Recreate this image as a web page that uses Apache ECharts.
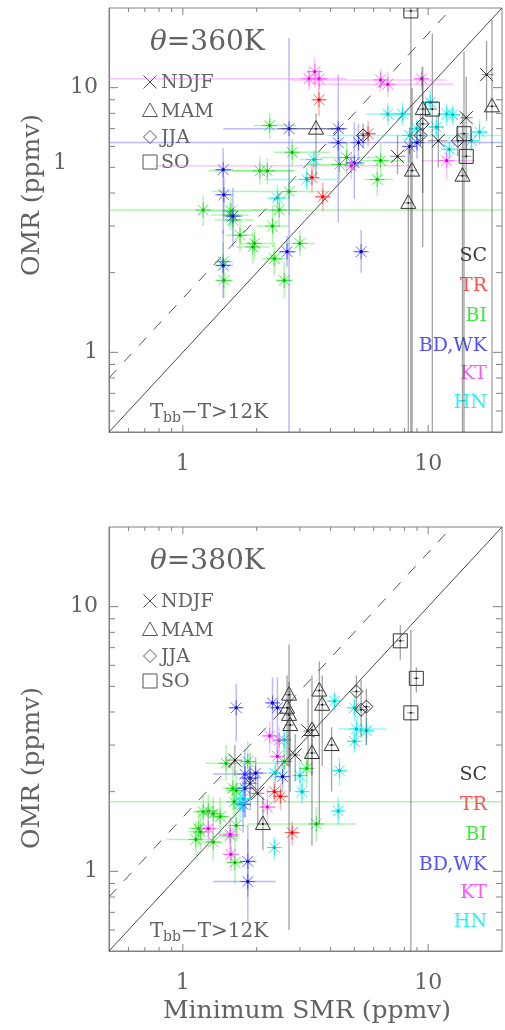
<!DOCTYPE html>
<html><head><meta charset="utf-8">
<script src="https://cdn.jsdelivr.net/npm/echarts@6/dist/echarts.min.js"></script>
<style>html,body{margin:0;padding:0;background:#fff}#c{width:505px;height:1030px}</style>
</head><body><div id="c"></div>
<script>
// ---------- data: [SMR, OMR, SMRlow, SMRhigh, OMRlow, OMRhigh] (ppmv) ----------
const AXIS_MIN = 0.5, AXIS_MAX = 20;
const TICK_VALUES = [0.6,0.7,0.8,0.9,1,2,3,4,5,6,7,8,9,10];
const MAJOR_TICKS = [1,10];
const ONE_TO_ONE = [0.5, 20];
const DASH_RATIO = 1.6;
const REGION_NAMES = ['SC','TR','BI','BD,WK','KT','HN'];
const SEASON_NAMES = ['NDJF','MAM','JJA','SO'];
const PANEL_TITLES = ['360K','380K'];

// theta = 360K
const BI_360 = [
 [2.26,7.2,1.95,2.9,6.4,8.0],[2.79,5.7,2.36,3.97,5.0,6.4],[2.06,4.85,1.27,2.84,4.3,5.5],
 [2.21,4.85,1.6,2.85,4.3,5.4],[2.71,4.05,1.31,4.1,3.3,4.9],[1.21,3.45,0.4,25,3.0,3.9],
 [1.57,3.42,1.25,1.9,3.0,3.9],[1.56,3.3,1.3,1.85,2.9,3.7],[1.6,3.16,1.35,1.95,2.8,3.5],
 [2.47,3.45,1.9,3.0,3.0,4.0],[4.65,5.45,3.6,6.2,4.7,6.2],[6.4,5.3,5.3,8.0,4.6,6.1],
 [6.2,4.5,5.5,7.2,3.9,5.2],[4.35,5.13,3.2,5.5,4.3,6.0],[2.32,3.0,2.0,2.7,2.5,3.6],
 [1.71,2.77,1.5,1.95,2.4,3.2],[1.96,2.58,1.7,2.3,2.25,2.9],[1.93,2.5,1.65,2.25,2.15,2.85],
 [3.0,2.58,2.55,3.45,2.3,2.9],[2.36,2.26,2.1,2.65,1.95,2.6],[2.59,1.87,2.4,2.8,1.6,2.2],
 [1.46,2.2,1.35,1.6,1.85,2.6],[1.47,1.87,1.35,1.6,1.6,2.2]
];
const BD_360 = [
 [2.71,7.0,1.46,4.55,0.4,15.4],[4.3,7.0,3.9,4.7,3.1,11.2],[4.3,6.2,3.9,4.7,5.3,7.2],
 [5.2,6.2,0.4,25,5.3,7.3],[5.0,5.2,4.6,5.5,3.8,7.4],[1.46,4.9,1.35,1.6,2.8,5.9],
 [1.47,3.94,1.35,1.6,3.2,4.6],[1.6,3.27,1.5,1.75,2.5,4.2],[8.4,6.0,7.9,9.0,5.2,7.0],
 [9.0,6.2,8.5,9.5,5.4,7.0],[2.66,2.4,2.45,2.9,2.1,2.75],[1.46,2.13,1.35,1.6,1.6,2.9],
 [5.33,2.4,5.0,5.6,2.0,2.9]
];
const TR_360 = [
 [3.59,9.0,3.4,3.8,7.8,10.3],[5.69,6.7,5.3,6.1,6.0,7.5],[3.36,4.57,3.15,3.6,4.0,5.2],
 [3.72,3.87,3.45,4.0,3.4,4.4]
];
const KT_360 = [
 [3.27,10.8,0.4,4.65,9.8,12.0],[3.45,11.5,3.2,3.7,10.0,13.0],[3.59,10.8,3.3,3.9,9.8,11.8],
 [6.4,10.7,2.75,11.9,9.7,11.8],[6.85,10.3,3.4,12.6,9.2,11.5],[9.4,10.8,8.8,10.0,9.8,12.0],
 [11.9,5.3,9.4,15.5,4.5,6.0],[4.86,5.07,0.77,8.6,4.5,5.7]
];
const HN_360 = [
 [6.85,7.95,5.6,7.9,7.2,8.8],[7.86,7.95,7.3,8.5,7.2,8.8],[10.2,8.8,9.5,11.0,7.9,9.8],
 [10.8,7.1,10.0,11.6,6.4,7.9],[11.9,7.95,11.0,12.8,7.2,8.7],[12.6,7.9,11.7,13.5,7.2,8.6],
 [16.2,6.8,15.0,17.5,6.1,7.6],[15.0,6.3,14.0,16.0,5.7,7.0],[12.2,5.85,11.3,13.1,5.3,6.5],
 [3.42,5.35,2.98,3.75,4.9,5.8],[3.2,4.5,2.15,4.23,4.1,5.0],[2.43,3.83,2.2,2.7,3.4,4.3],
 [9.0,7.0,8.6,9.4,6.4,7.6],[8.4,6.6,3.86,25,6.1,7.1]
];
const NDJF_360 = [[7.5,5.5,7.0,8.1,4.7,6.6],[11.0,6.3,10.0,12.0,5.0,8.0],[14.3,7.7,13.5,15.2,5.5,11.0],[17.3,11.2,16.5,18.5,7.5,15.0]];
const MAM_360 = [[3.49,7.0,2.43,4.55,4.6,8.0],[9.5,8.3,9.0,10.0,4.0,11.0],[18.2,8.5,17.5,19.0,0.4,18.0],[8.6,4.86,8.2,9.0,0.4,10.0],[8.3,3.67,8.0,8.7,0.4,6.0],[13.8,4.65,13.2,14.4,0.4,8.0]];
const JJA_360 = [[5.43,6.6,5.1,5.8,5.9,7.3],[9.5,7.3,9.0,10.0,2.5,12.0],[9.3,6.6,8.9,9.7,6.0,8.0],[13.2,6.3,12.5,14.0,5.5,7.2]];
const SO_360 = [[8.5,19.5,8.1,8.9,0.4,25],[10.4,8.3,9.9,10.9,0.4,16.0],[14.0,6.7,13.4,14.6,0.4,13.7],[14.3,5.5,13.7,15.0,4.5,6.6]];

// theta = 380K
const BI_380 = [
 [1.5,2.56,1.24,2.6,2.2,3.0],[1.84,2.6,1.7,2.0,2.2,3.1],[1.6,2.06,1.45,1.75,1.7,2.5],
 [1.65,2.02,1.5,1.8,1.7,2.4],[2.59,2.6,2.4,2.8,2.2,3.0],[3.2,2.45,3.0,3.4,2.1,2.8],
 [3.5,1.51,1.84,5.1,1.3,1.75],[1.21,1.68,1.1,1.35,1.45,1.95],[1.27,1.69,1.15,1.4,1.45,1.95],
 [1.33,1.65,1.2,1.45,1.4,1.9],[1.42,1.61,1.3,1.55,1.35,1.9],[1.16,1.45,1.05,1.3,1.25,1.7],
 [1.13,1.32,0.86,1.3,1.1,1.55],[1.18,1.41,1.05,1.3,1.2,1.65],[1.33,1.29,1.2,1.45,1.1,1.5],
 [1.56,1.36,1.4,1.7,1.15,1.6],[1.65,1.49,1.5,1.8,1.3,1.7],[1.63,1.08,1.5,1.75,0.9,1.3],
 [1.62,1.83,0.4,25,1.6,2.1]
];
const BD_380 = [
 [1.65,4.15,1.55,1.75,3.1,5.1],[2.32,4.33,2.2,2.45,3.2,5.4],[2.43,4.15,2.3,2.55,2.5,5.4],
 [1.79,2.33,1.33,1.98,1.6,2.9],[1.88,2.25,1.7,2.05,1.7,2.8],[1.98,2.35,1.8,2.2,2.0,2.7],
 [1.79,2.06,1.65,1.95,1.6,2.5],[1.76,1.79,1.65,1.9,1.4,2.3],[2.55,2.28,2.4,2.7,2.0,2.6],
 [1.84,1.09,1.7,2.0,0.8,1.5],[1.84,0.915,1.33,2.39,0.64,1.32]
];
const TR_380 = [[2.36,2.0,2.2,2.55,1.8,2.2],[2.5,1.92,2.35,2.65,1.7,2.15],[2.79,1.4,2.65,2.95,1.25,1.55]];
const KT_380 = [
 [2.26,3.25,2.1,2.45,2.8,3.7],[2.43,2.72,2.3,2.6,2.4,3.1],[2.21,1.75,2.05,2.4,1.5,2.05],
 [1.27,1.45,1.15,1.4,1.25,1.7],[1.56,1.38,1.4,1.7,1.2,1.6],[1.57,1.16,1.45,1.7,1.0,1.35],
 [2.47,3.13,2.35,2.6,2.8,3.5]
];
const HN_380 = [
 [2.38,2.35,2.25,2.5,2.1,2.6],[2.59,3.14,2.45,2.75,2.8,3.5],[3.0,2.3,2.85,3.15,2.0,2.6],
 [3.06,2.0,2.9,3.2,1.8,2.25],[1.71,1.8,1.6,1.85,1.55,2.05],[1.76,1.88,1.65,1.9,1.6,2.15],
 [2.36,1.23,2.25,2.5,1.1,1.35],[4.15,4.4,3.9,4.4,4.0,4.8],[5.0,4.15,4.7,5.3,3.7,4.6],
 [5.1,3.45,4.3,6.8,3.0,3.9],[5.6,3.4,5.3,5.9,3.0,3.8],[5.0,3.1,4.7,5.3,2.8,3.4],
 [4.35,2.4,4.1,4.6,2.1,2.7],[4.3,1.69,4.1,4.5,1.5,1.9]
];
const NDJF_380 = [[3.24,3.39,3.1,3.4,2.5,4.5],[2.87,2.75,2.7,3.0,2.2,3.3],[1.63,2.63,1.5,1.75,2.3,3.0],[1.88,2.15,1.75,2.0,1.9,2.5],[2.02,1.97,1.9,2.15,1.5,2.4]];
const MAM_380 = [[2.71,4.65,2.6,2.8,0.6,7.2],[2.66,4.15,2.55,2.75,2.5,5.5],[2.71,3.9,2.6,2.8,2.5,5.2],[2.74,3.57,2.6,2.85,2.0,4.8],[3.6,4.82,3.45,3.75,1.5,6.2],[3.7,4.26,3.55,3.85,2.5,5.5],[3.36,3.42,3.2,3.5,1.25,5.5],[4.04,3.0,3.9,4.2,2.0,3.5],[3.36,2.8,3.2,3.5,2.3,3.4],[2.12,1.51,2.0,2.25,1.2,1.9]];
const JJA_380 = [[5.1,4.78,4.9,5.3,4.0,5.5],[5.33,4.08,5.1,5.6,3.2,5.3],[5.6,4.19,5.4,5.8,3.0,4.9]];
const SO_380 = [[7.7,7.43,7.4,8.0,6.3,8.5],[8.95,5.36,8.7,9.2,4.74,5.9],[8.5,3.97,8.2,8.8,0.4,8.16]];

// ---------- styling / rendering ----------
const FONT = 'DejaVu Serif';
const TXT = '#626262';
const REGION_STYLE = {
  'SC':   {mark:'#333', bar:'rgba(70,70,70,0.5)', dot:'#111', label:'#3a3a3a'},
  'TR':   {mark:'rgba(255,50,50,0.8)', bar:'rgba(255,80,80,0.42)', dot:'#e00', label:'#ff5050'},
  'BI':   {mark:'rgba(30,225,30,0.8)', bar:'rgba(60,235,60,0.42)', dot:'#0b0', label:'#3ce83c'},
  'BD,WK':{mark:'rgba(60,60,255,0.8)', bar:'rgba(90,90,255,0.42)', dot:'#00c', label:'#5050ff'},
  'KT':   {mark:'rgba(255,70,255,0.8)', bar:'rgba(255,110,255,0.42)', dot:'#d0d', label:'#ff55ff'},
  'HN':   {mark:'rgba(0,235,235,0.85)', bar:'rgba(0,240,240,0.42)', dot:'#0bb', label:'#2af2f2'}
};
const SEASON_KIND = {NDJF:'x', MAM:'tri', JJA:'dia', SO:'sq'};

function clampFn(lo, hi){ return v => Math.min(Math.max(v, lo), hi); }
function seg(x1,y1,x2,y2,st){ return {type:'line', shape:{x1,y1,x2,y2}, style:st}; }
function markerShapes(kind, x, y, st){
  const out = [];
  if (kind === 'ast') {
    const r = 7.5, d = r*Math.SQRT1_2;
    out.push(seg(x-r,y,x+r,y,st), seg(x,y-r,x,y+r,st), seg(x-d,y-d,x+d,y+d,st), seg(x-d,y+d,x+d,y-d,st));
  } else if (kind === 'x') {
    const r = 6.5;
    out.push(seg(x-r,y-r,x+r,y+r,st), seg(x-r,y+r,x+r,y-r,st));
  } else if (kind === 'tri') {
    out.push({type:'polygon', shape:{points:[[x,y-8],[x+7.5,y+5.5],[x-7.5,y+5.5]]}, style:Object.assign({fill:'none'},st)});
  } else if (kind === 'dia') {
    out.push({type:'polygon', shape:{points:[[x,y-6.5],[x+6.5,y],[x,y+6.5],[x-6.5,y]]}, style:Object.assign({fill:'none'},st)});
  } else if (kind === 'sq') {
    out.push({type:'rect', shape:{x:x-7,y:y-7,width:14,height:14}, style:Object.assign({fill:'none'},st)});
  }
  return out;
}
function makeRender(kind, sty){
  return function(params, api){
    const cs = params.coordSys;
    const cX = clampFn(cs.x, cs.x+cs.width), cY = clampFn(cs.y, cs.y+cs.height);
    const x = api.value(0), y = api.value(1);
    const p = api.coord([x, y]);
    const xl = api.coord([api.value(2), y])[0], xh = api.coord([api.value(3), y])[0];
    const yl = api.coord([x, api.value(4)])[1], yh = api.coord([x, api.value(5)])[1];
    const bs = {stroke: sty.bar, lineWidth: kind==='ast' ? 1.5 : 1.3};
    const children = [seg(cX(xl),p[1],cX(xh),p[1],bs), seg(p[0],cY(yl),p[0],cY(yh),bs)];
    const ms = {stroke: sty.mark, lineWidth: 1};
    markerShapes(kind, p[0], p[1], ms).forEach(s => children.push(s));
    children.push({type:'circle', shape:{cx:p[0], cy:p[1], r: kind==='ast'?1.6:1}, style:{fill: sty.dot}});
    return {type:'group', children};
  };
}
function pointSeries(data, g, kind, sty){
  return {type:'custom', xAxisIndex:g, yAxisIndex:g, data, encode:{x:0,y:1}, clip:true,
          silent:true, animation:false, renderItem: makeRender(kind, sty)};
}
function tickSeries(g){
  return {type:'custom', xAxisIndex:g, yAxisIndex:g, data: TICK_VALUES.map(v=>[v,v]), encode:{x:0,y:1},
    silent:true, animation:false, z:5,
    renderItem: function(params, api){
      const cs = params.coordSys, v = api.value(0);
      const major = MAJOR_TICKS.indexOf(v) >= 0;
      const px = api.coord([v, AXIS_MIN])[0], py = api.coord([AXIS_MIN, v])[1];
      const L = cs.x, R = cs.x+cs.width, T = cs.y, B = cs.y+cs.height;
      const lx = major ? 7 : 4, ly = major ? 9 : 6;
      const st = {stroke:'#808080', lineWidth:1};
      return {type:'group', children:[
        seg(px,B,px,B-lx,st), seg(px,T,px,T+lx,st), seg(L,py,L+ly,py,st), seg(R,py,R-ly,py,st)]};
    }};
}
function lineSeries(g){
  return [
    {type:'line', xAxisIndex:g, yAxisIndex:g, data: ONE_TO_ONE.map(v=>[v,v]), symbol:'none', silent:true,
     animation:false, lineStyle:{color:'#4a4a4a', width:1}, z:1},
    {type:'line', xAxisIndex:g, yAxisIndex:g, data: [[ONE_TO_ONE[0], ONE_TO_ONE[0]*DASH_RATIO],[AXIS_MAX/DASH_RATIO, AXIS_MAX]],
     symbol:'none', silent:true, animation:false, lineStyle:{color:'#555', width:1, type:[11,11]}, z:1}
  ];
}

const PANELS = [
  {regions:{'BI':BI_360,'BD,WK':BD_360,'TR':TR_360,'KT':KT_360,'HN':HN_360},
   seasons:{NDJF:NDJF_360,MAM:MAM_360,JJA:JJA_360,SO:SO_360}},
  {regions:{'BI':BI_380,'BD,WK':BD_380,'TR':TR_380,'KT':KT_380,'HN':HN_380},
   seasons:{NDJF:NDJF_380,MAM:MAM_380,JJA:JJA_380,SO:SO_380}}
];
const GRID_TOPS = [8, 527];
const OMR_LABEL_Y = [195, 768];

const series = [];
PANELS.forEach((pn, g) => {
  lineSeries(g).forEach(s => series.push(s));
  ['BI','BD,WK','TR','KT','HN'].forEach(r => series.push(pointSeries(pn.regions[r], g, 'ast', REGION_STYLE[r])));
  SEASON_NAMES.forEach(s => series.push(pointSeries(pn.seasons[s], g, SEASON_KIND[s], REGION_STYLE['SC'])));
  series.push(tickSeries(g));
});

function labelFmt(v){ const r = Math.round(v*1000)/1000; return (r===1||r===10) ? String(r) : ''; }
const axisCommon = {type:'log', logBase:10, min:AXIS_MIN, max:AXIS_MAX, splitLine:{show:false},
  axisTick:{show:false}, axisLine:{show:true, lineStyle:{color:'#808080', width:1}}};
const xAxes = [0,1].map(g => Object.assign({}, axisCommon, {gridIndex:g,
  axisLabel:{formatter:labelFmt, fontFamily:FONT, fontSize:22, color:TXT, margin:21}}));
const yAxes = [0,1].map(g => Object.assign({}, axisCommon, {gridIndex:g,
  axisLabel:{formatter:labelFmt, fontFamily:FONT, fontSize:22, color:TXT, margin:11}}));

// ---------- annotations ----------
const graphic = [];
function txt(x, y, text, size, color, align, extra){
  return Object.assign({type:'text', x, y, silent:true, style:{text, fontFamily:FONT, fontSize:size, fill:color,
    align:align||'left', verticalAlign:'middle'}}, extra||{});
}
GRID_TOPS.forEach((top, g) => {
  const o = top - 8;
  graphic.push({type:'text', x:150, y:43+o, silent:true, style:{text:'{i|θ}{n|=' + PANEL_TITLES[g] + '}',
    verticalAlign:'middle', rich:{i:{fontFamily:FONT, fontStyle:'italic', fontSize:28, fill:TXT},
    n:{fontFamily:FONT, fontSize:28, fill:TXT}}}});
  const legY = [82, 111, 137, 162];
  SEASON_NAMES.forEach((s, i) => {
    const st = {stroke:'#555', lineWidth:1, fill:'none'};
    const ys = legY[i] + o;
    markerShapes(SEASON_KIND[s], 150, ys, st).forEach(sh => { sh.silent = true; graphic.push(sh); });
    graphic.push(txt(161, ys+1, s, 19, TXT));
  });
  const regY = [256, 286, 316, 346, 374, 403];
  REGION_NAMES.forEach((r, i) => graphic.push(txt(487, regY[i]+o, r, 19, REGION_STYLE[r].label, 'right')));
  graphic.push(txt(150, 413+o, 'T', 20, TXT));
  graphic.push(txt(163, 418+o, 'bb', 14, TXT));
  graphic.push(txt(181, 413+o, '−T>12K', 20, TXT));
  graphic.push(txt(32, OMR_LABEL_Y[g], 'OMR (ppmv)', 25, TXT, 'center', {rotation:Math.PI/2}));
});
graphic.push(txt(60, 163, '1', 22, TXT, 'center'));
graphic.push(txt(307, 1011, 'Minimum SMR (ppmv)', 25, TXT, 'center'));

const chart = echarts.init(document.getElementById('c'), null, {renderer:'canvas'});
chart.setOption({
  animation:false,
  backgroundColor:'#fff',
  grid: GRID_TOPS.map(t => ({left:109, top:t, width:399, height:424, show:true, borderColor:'#808080', borderWidth:1})),
  xAxis: xAxes, yAxis: yAxes,
  series, graphic
});
</script></body></html>
